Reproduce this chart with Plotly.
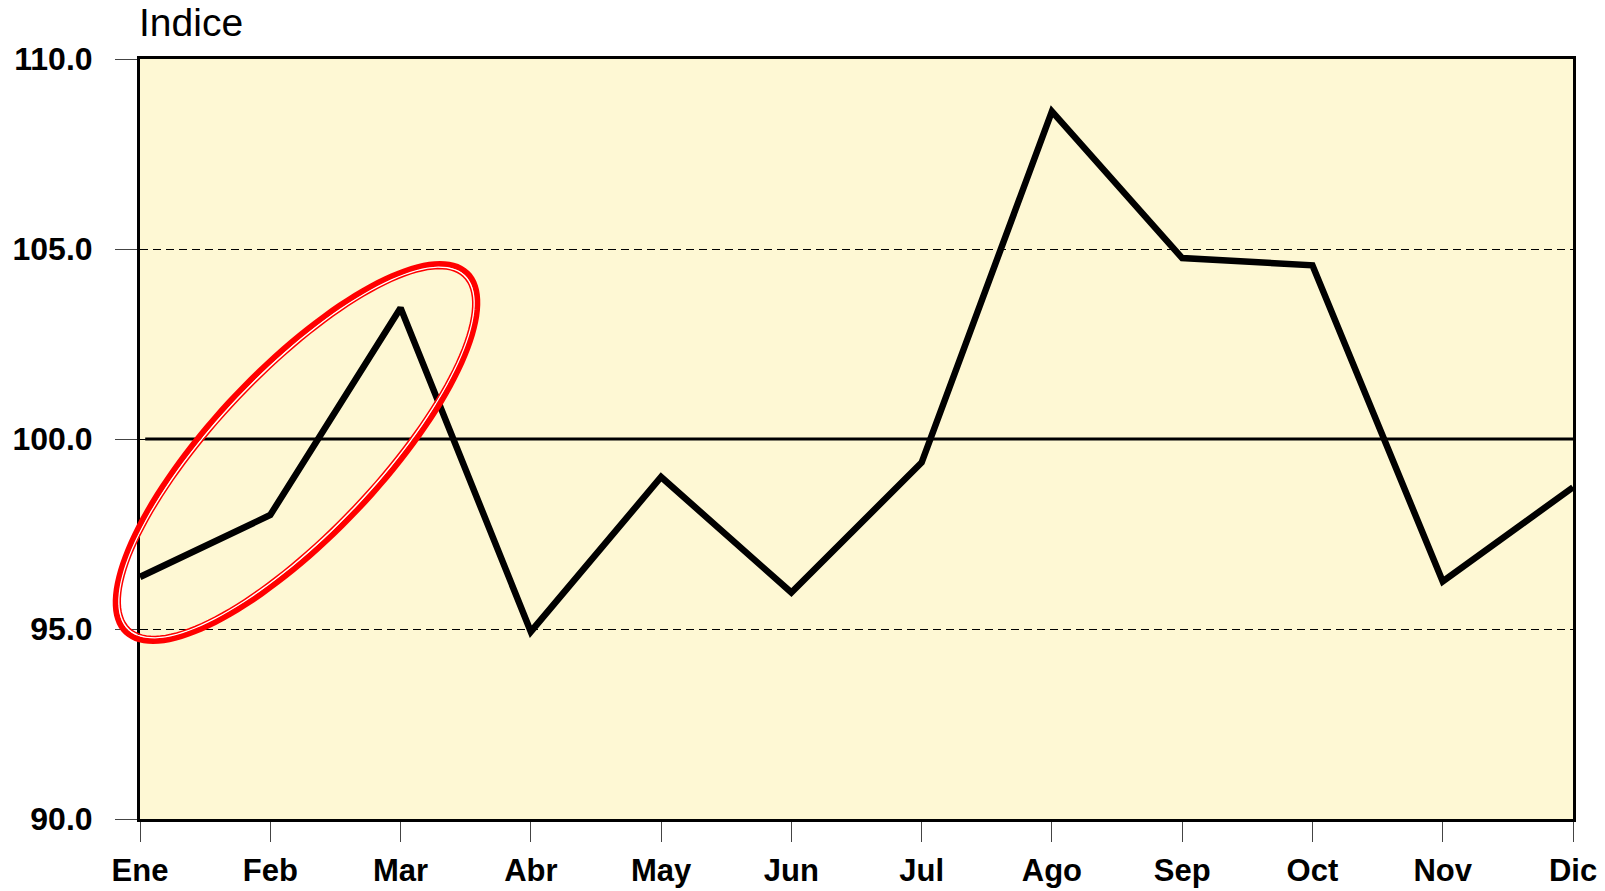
import numpy as np
import plotly.graph_objects as go

months = ["Ene", "Feb", "Mar", "Abr", "May", "Jun", "Jul", "Ago", "Sep", "Oct", "Nov", "Dic"]
indice = [96.37, 98.0, 103.45, 94.93, 99.0, 95.96, 99.38, 108.62, 104.76, 104.57, 96.25, 98.73]
y_ticks = [90, 95, 100, 105, 110]
y_ticktext = ["90.0", "95.0", "100.0", "105.0", "110.0"]

W, H = 1605, 891
PLOT_X0, PLOT_X1, PLOT_Y0, PLOT_Y1 = 140, 1573, 59, 819  # window pixels
L, T = PLOT_X0, PLOT_Y0
R = W - PLOT_X1
B = H - PLOT_Y1
pw, ph = PLOT_X1 - PLOT_X0, PLOT_Y1 - PLOT_Y0

FONT = "Liberation Sans, Arial, sans-serif"

fig = go.Figure()
fig.add_trace(go.Scatter(
    x=list(range(len(months))), y=indice, mode="lines",
    line=dict(color="black", width=6.5), hoverinfo="skip", showlegend=False,
))

# reference line at 100
fig.add_shape(type="line", xref="x", yref="y", x0=0.04, x1=11, y0=100, y1=100,
              line=dict(color="black", width=3), layer="above")


# highlight ellipse (annotation, in paper coords so it isn't clipped)
def ellipse_path(cx, cy, a, b, theta_deg, n=140):
    th = np.radians(theta_deg)
    t = np.linspace(0, 2 * np.pi, n, endpoint=False)
    px = cx + a * np.cos(t) * np.cos(th) - b * np.sin(t) * np.sin(th)
    py = cy - (a * np.cos(t) * np.sin(th) + b * np.sin(t) * np.cos(th))
    xp = (px - PLOT_X0) / pw
    yp = (PLOT_Y1 - py) / ph
    pts = [f"{x:.5f},{y:.5f}" for x, y in zip(xp, yp)]
    return "M" + " L".join(pts) + " Z"


cx, cy, a, b, ang = 296.5, 452.5, 246, 82, 46.5
fig.add_shape(type="path", xref="paper", yref="paper",
              path=ellipse_path(cx, cy, a + 1.5, b + 1.5, ang),
              line=dict(color="#FF0000", width=6), layer="above")
fig.add_shape(type="path", xref="paper", yref="paper",
              path=ellipse_path(cx, cy, a - 2.2, b - 2.2, ang),
              line=dict(color="white", width=1.5), layer="above")
fig.add_shape(type="path", xref="paper", yref="paper",
              path=ellipse_path(cx, cy, a - 3.6, b - 3.6, ang),
              line=dict(color="#FF0000", width=1.5), layer="above")

fig.add_annotation(text="Indice", xref="paper", yref="paper", x=-0.002, y=1,
                   xanchor="left", yanchor="bottom", yshift=13, showarrow=False,
                   font=dict(family=FONT, size=39, color="black"))

fig.update_layout(
    width=W, height=H,
    margin=dict(l=L, r=R, t=T, b=B, pad=0),
    paper_bgcolor="white", plot_bgcolor="#FEF8D4",
    font=dict(family=FONT, color="black"),
    xaxis=dict(
        range=[0, 11], tickmode="array", tickvals=list(range(len(months))), ticktext=months,
        ticks="outside", ticklen=20, tickwidth=1, tickcolor="#444",
        showgrid=False, zeroline=False, automargin=False,
        showline=True, linecolor="black", linewidth=3, mirror=True,
        tickfont=dict(family=FONT, size=31, color="black", weight="bold"),
        ticklabelstandoff=2,
    ),
    yaxis=dict(
        range=[90, 110], tickmode="array", tickvals=y_ticks, ticktext=y_ticktext,
        ticks="outside", ticklen=22, tickwidth=1, tickcolor="#444",
        showgrid=True, gridcolor="black", gridwidth=1, griddash="8px,5px",
        zeroline=False, automargin=False,
        showline=True, linecolor="black", linewidth=3, mirror=True,
        tickfont=dict(family=FONT, size=32, color="black", weight="bold"),
        ticklabelstandoff=16,
    ),
)

fig.write_html("out.html", config={"displayModeBar": False},
               post_script="document.body.style.margin='0px';")
